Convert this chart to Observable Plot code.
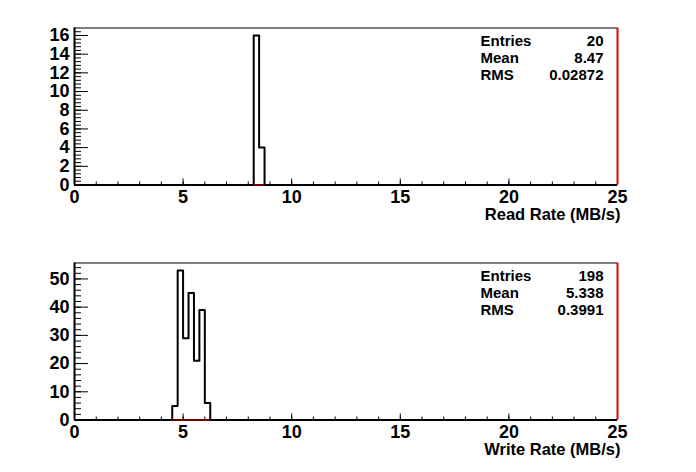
<!DOCTYPE html>
<html><head><meta charset="utf-8">
<script src="https://cdn.jsdelivr.net/npm/d3@7"></script>
<script src="https://cdn.jsdelivr.net/npm/@observablehq/plot@0.6"></script>
<style>
body{margin:0;background:#fff;}
#chart{width:696px;height:472px;overflow:hidden;}
#chart svg{display:block;}
</style>
</head><body><div id="chart"></div>
<script>
const xDomain = [0, 25];
const binWidth = 0.25;
const readBinStarts = [8.25, 8.5];
const readCounts = [16, 4];
const writeBinStarts = [4.5, 4.75, 5.0, 5.25, 5.5, 5.75, 6.0];
const writeCounts = [5, 53, 29, 45, 21, 39, 6];
const statNames = ["Entries", "Mean", "RMS"];
const readStats = ["20", "8.47", "0.02872"];
const writeStats = ["198", "5.338", "0.3991"];
const xMajorTicks = [0, 5, 10, 15, 20, 25];
const xMinorStep = 1;
const readYTicks = [0, 2, 4, 6, 8, 10, 12, 14, 16];
const readYMinorStep = 0.4;
const writeYTicks = [0, 10, 20, 30, 40, 50];
const writeYMinorStep = 2;
const readTitle = "Read Rate (MB/s)";
const writeTitle = "Write Rate (MB/s)";

const FONT = "'Liberation Sans', Arial, Helvetica, sans-serif";
const RED = "#e00000";

function panel({starts, counts, stats, title, yTicks, yMinorStep, marginTop, marginBottom}) {
  const W = 696, H = 236, mL = 74, mR = 79;
  const fw = W - mL - mR, fh = H - marginTop - marginBottom;
  const yMax = d3.max(counts) * 1.05;
  const hi = starts[starts.length - 1] + binWidth;
  const pts = [{x: starts[0], y: 0},
    ...starts.map((s, i) => ({x: s, y: counts[i]})),
    {x: hi, y: 0}];
  const xMinor = d3.range(xDomain[0], xDomain[1] + 1e-9, xMinorStep);
  const yMinor = d3.range(0, yMax, yMinorStep);
  const rowDy = [13, 30, 47];
  const statMarks = [];
  statNames.forEach((n, i) => {
    statMarks.push(Plot.text([n], {text: d => d, frameAnchor: "top-right", textAnchor: "start", lineAnchor: "middle", dx: -137, dy: rowDy[i], fontSize: 15}));
    statMarks.push(Plot.text([stats[i]], {text: d => d, frameAnchor: "top-right", textAnchor: "end", lineAnchor: "middle", dx: -14, dy: rowDy[i], fontSize: 15}));
  });
  return Plot.plot({
    width: W, height: H,
    marginLeft: mL, marginRight: mR, marginTop, marginBottom,
    style: {fontFamily: FONT, fontWeight: "bold", fontSize: "18px", background: "white", color: "black", overflow: "visible"},
    x: {domain: xDomain},
    y: {domain: [0, yMax]},
    marks: [
      Plot.ruleY([yMax], {stroke: "black", strokeWidth: 1}),
      Plot.tickX(xMinor, {x: d => d, insetTop: fh - 3, strokeWidth: 1}),
      Plot.tickX(xMajorTicks, {x: d => d, insetTop: fh - 6, strokeWidth: 1}),
      Plot.tickY(yMinor, {y: d => d, insetRight: fw - 7, strokeWidth: 1}),
      Plot.tickY(yTicks, {y: d => d, insetRight: fw - 14, strokeWidth: 1}),
      Plot.axisX({ticks: xMajorTicks, tickSize: 0, tickPadding: 5, fontSize: 18, tickFormat: d => String(d), label: null}),
      Plot.axisY({ticks: yTicks, tickSize: 0, tickPadding: 5, fontSize: 18, tickFormat: d => String(d), label: null}),
      Plot.line(pts, {x: "x", y: "y", curve: "step-after", stroke: "black", strokeWidth: 2}),
      Plot.ruleY([0], {stroke: "black", strokeWidth: 2}),
      Plot.ruleX([xDomain[0]], {stroke: "black", strokeWidth: 2}),
      Plot.ruleX([xDomain[1]], {stroke: RED, strokeWidth: 2}),
      Plot.ruleY([0], {x1: starts[0], x2: hi, stroke: RED, strokeWidth: 1}),
      Plot.text([title], {text: d => d, frameAnchor: "bottom-right", textAnchor: "end", lineAnchor: "top", dx: 3, dy: 23.5, fontSize: 16.5}),
      ...statMarks
    ]
  });
}

const chart = document.getElementById("chart");
chart.append(panel({starts: readBinStarts, counts: readCounts, stats: readStats, title: readTitle, yTicks: readYTicks, yMinorStep: readYMinorStep, marginTop: 27.5, marginBottom: 51.5}));
chart.append(panel({starts: writeBinStarts, counts: writeCounts, stats: writeStats, title: writeTitle, yTicks: writeYTicks, yMinorStep: writeYMinorStep, marginTop: 26.5, marginBottom: 52.5}));
</script>
</body></html>
